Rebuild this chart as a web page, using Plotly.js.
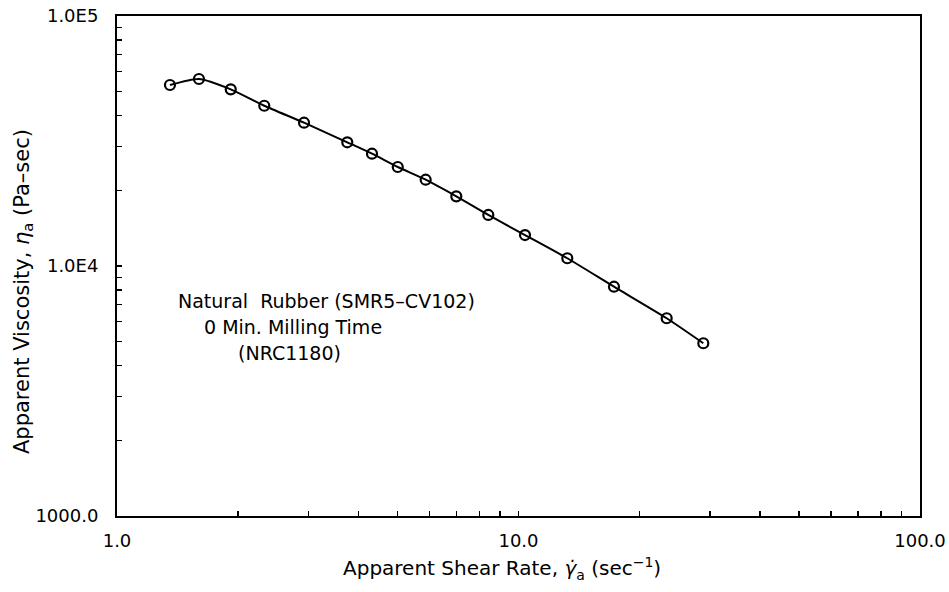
<!DOCTYPE html>
<html>
<head>
<meta charset="utf-8">
<script src="https://cdn.plot.ly/plotly-3.0.1.min.js"></script>
<style>html,body{margin:0;padding:0;background:#fff;}#chart{width:949px;height:592px;}</style>
</head>
<body>
<div id="chart"></div>
<script>
var shearRate = [1.355, 1.60, 1.92, 2.327, 2.923, 3.746, 4.316, 5.003, 5.872, 7.00, 8.41, 10.38, 13.23, 17.29, 23.39, 28.86];
var viscosity = [52970, 55980, 50900, 43760, 37430, 31250, 28130, 24890, 22140, 18990, 16000, 13300, 10740, 8265, 6180, 4910];
var xTickVals = [1, 10, 100];
var xTickText = ["1.0", "10.0", "100.0"];
var yTickVals = [1000, 10000, 100000];
var yTickText = ["1000.0", "1.0E4", "1.0E5"];
var labelLines = ["Natural  Rubber (SMR5\u2013CV102)", "0 Min. Milling Time", "(NRC1180)"];
var xTitle = "Apparent Shear Rate, <i>\u03B3\u0307</i><sub>a</sub> (sec<sup>\u22121</sup>)";
var yTitle = "Apparent Viscosity, <i>\u03B7</i><sub>a</sub> (Pa\u2013sec)";

var fam = "DejaVu Sans, sans-serif";
function f(s) { return {family: fam, size: s, color: "#000"}; }

var trace = {
  x: shearRate, y: viscosity, type: "scatter", mode: "lines+markers",
  line: {color: "#000", width: 2, shape: "spline", smoothing: 0.6},
  marker: {symbol: "circle-open", size: 10, color: "#000", line: {width: 2.2, color: "#000"}},
  showlegend: false
};

function axis(range, vals, text) {
  return {
    type: "log", range: range, tickvals: vals, ticktext: text,
    ticks: "inside", ticklen: 5, tickwidth: 1.5, tickcolor: "#000",
    minor: {ticks: "inside", ticklen: 5, tickwidth: 1.5, tickcolor: "#000", dtick: "D1", showgrid: false},
    showline: true, linecolor: "#000", linewidth: 2, mirror: true, showgrid: false, zeroline: false,
    tickfont: f(18), ticklabelstandoff: 12
  };
}

var xa = axis([0, 2], xTickVals, xTickText);
xa.ticklabelstandoff = 7;
var ya = axis([3, 5], yTickVals, yTickText);
ya.ticklabelstandoff = 13;

var layout = {
  width: 949, height: 592,
  margin: {l: 117, r: 29, t: 16, b: 76},
  paper_bgcolor: "#fff", plot_bgcolor: "#fff",
  font: f(18),
  xaxis: xa, yaxis: ya,
  annotations: [
    {xref: "paper", yref: "paper", x: 0.2603, y: 0.430, text: labelLines[0], showarrow: false, xanchor: "center", yanchor: "middle", font: f(19)},
    {xref: "paper", yref: "paper", x: 0.2198, y: 0.378, text: labelLines[1], showarrow: false, xanchor: "center", yanchor: "middle", font: f(19)},
    {xref: "paper", yref: "paper", x: 0.2142, y: 0.326, text: labelLines[2], showarrow: false, xanchor: "center", yanchor: "middle", font: f(19)},
    {xref: "paper", yref: "paper", x: 0.4795, y: -0.104, text: xTitle, showarrow: false, xanchor: "center", yanchor: "middle", font: f(20)},
    {xref: "paper", yref: "paper", x: -0.117, y: 0.448, text: yTitle, showarrow: false, xanchor: "center", yanchor: "middle", textangle: -90, font: f(21)}
  ]
};

Plotly.newPlot("chart", [trace], layout, {displayModeBar: false, staticPlot: true});
</script>
</body>
</html>
